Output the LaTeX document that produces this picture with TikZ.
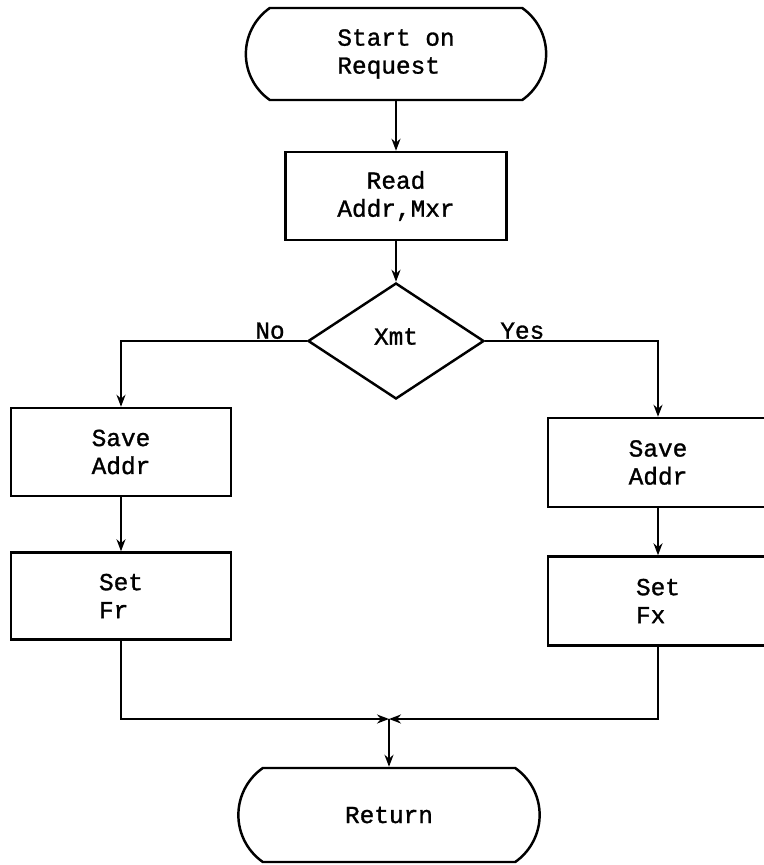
\documentclass[tikz,border=0pt]{standalone}
\usepackage{fontspec}
\newfontfamily\typer{Liberation Mono}[FakeBold=1.2]
\usepackage{tikz}
\usetikzlibrary{arrows.meta}
\usetikzlibrary{shapes.misc, shapes.geometric}
\usetikzlibrary{positioning}

\begin{document}
\begin{tikzpicture}[
    every node/.style={font=\typer\fontsize{13.9}{15.9}\selectfont},
    >={Stealth[length=2.4mm,width=1.8mm]},
    terminal/.style={rounded rectangle, rounded rectangle arc length=110,
        draw, line width=1.4pt, minimum width=6.24cm, minimum height=1.84cm, align=left},
    process/.style={rectangle, draw, line width=1.4pt,
        minimum width=4.4cm, minimum height=1.76cm, align=left},
    decision/.style={diamond, draw, line width=1.4pt, inner sep=0pt,
        minimum width=3.52cm, minimum height=2.32cm},
    flow/.style={->, line width=1.1pt},
    branch/.style={inner sep=1pt}
]

% --- 1. PAGE FRAME ---
\useasboundingbox (0,0) rectangle (15.26,-17.3);

% --- 2. MAIN COLUMN ---
\node[terminal] (start) at (7.92,-1.08) {Start on\\Request};
\node[process, minimum width=4.42cm, align=center] (read) at (7.92,-3.92) {Read\\Addr,Mxr};
\node[decision] (xmt) at (7.92,-6.82) {\raisebox{0.18cm}{Xmt}};

% --- 3. NO BRANCH (left) ---
\node[process] (saveNo) at (2.42,-9.04) {Save\\Addr};
\node[process, minimum height=1.74cm] (setFr) at (2.42,-11.92) {Set\\Fr};

% --- 4. YES BRANCH (right) ---
\node[process, minimum height=1.78cm] (saveYes) at (13.16,-9.25) {Save\\Addr};
\node[process, minimum height=1.78cm] (setFx) at (13.16,-12.02) {Set\\Fx};

% --- 5. END ---
\coordinate (merge) at (7.78,-14.38);
\node[terminal, minimum width=6.26cm, minimum height=1.88cm] (ret) at (7.78,-16.30) {Return};

% --- 6. CONNECTORS ---
\draw[flow] (start) -- (read);
\draw[flow] (read) -- (xmt);

\draw[flow] (xmt.west) -| (saveNo.north);
\node[branch, left=0.4cm of xmt.west, anchor=south east] (lblNo) {No};
\draw[flow] (xmt.east) -| (saveYes.north);
\node[branch, right=0.26cm of xmt.east, anchor=south west] (lblYes) {Yes};

\draw[flow] (saveNo) -- (setFr);
\draw[flow] (saveYes) -- (setFx);

\draw[flow] (setFr.south) |- (merge);
\draw[flow] (setFx.south) |- (merge);
\draw[flow] (merge) -- (ret.north);

\end{tikzpicture}
\end{document}
